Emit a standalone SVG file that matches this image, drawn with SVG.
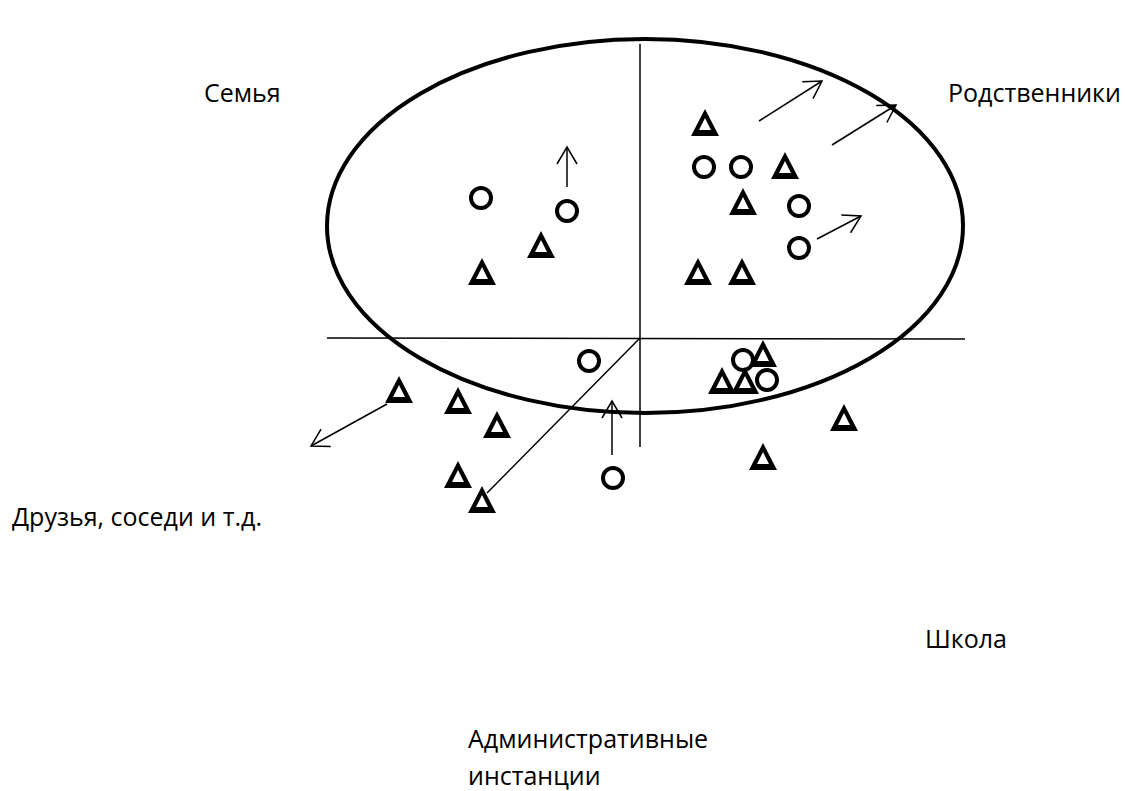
<svg xmlns="http://www.w3.org/2000/svg" xmlns:xlink="http://www.w3.org/1999/xlink" width="1125" height="791" viewBox="0 0 1125 791">
<style>
.lbl{font-family:"Open Sans","Noto Sans","Liberation Sans",sans-serif;font-size:25px;fill:#000}
.thin{stroke:#000;stroke-width:1.5;fill:none}
.arr{stroke:#000;stroke-width:1.5;fill:none;marker-end:url(#ah)}
.c{fill:none;stroke:#000;stroke-width:4}
</style>
<defs>
<marker id="ah" markerUnits="userSpaceOnUse" viewBox="-20 -12 22 24" refX="0" refY="0" markerWidth="22" markerHeight="24" orient="auto">
<path d="M-17,-10 L0,0 L-17,10" fill="none" stroke="#000" stroke-width="1.5"/>
</marker>
<path id="tri" d="M0,-27 L14,0 L-14,0 Z M0,-18 L-6,-6 L6,-6 Z" fill="#000" fill-rule="evenodd"/>
</defs>
<rect width="1125" height="791" fill="#fff"/>
<g id="field">
<ellipse cx="645" cy="226" rx="318" ry="187" fill="none" stroke="#000" stroke-width="4"/>
</g>
<g id="connectors">
<line class="thin" x1="640" y1="44" x2="640" y2="447"/>
<line class="thin" x1="327" y1="338" x2="965" y2="339"/>
<line class="thin" x1="640" y1="338" x2="487" y2="493"/>
<line class="arr" x1="567" y1="187" x2="567" y2="147"/>
<line class="arr" x1="759" y1="121" x2="822" y2="81"/>
<line class="arr" x1="832" y1="145" x2="896" y2="105"/>
<line class="arr" x1="817" y1="239" x2="861" y2="216"/>
<line class="arr" x1="387" y1="404" x2="311" y2="446"/>
<line class="arr" x1="612" y1="455" x2="612" y2="401"/>
</g>
<g id="family">
<circle class="c" cx="481" cy="198" r="10"/>
<circle class="c" cx="567" cy="211" r="10"/>
<use xlink:href="#tri" x="482" y="285"/>
<use xlink:href="#tri" x="541" y="258"/>
</g>
<g id="relatives">
<use xlink:href="#tri" x="705" y="136"/>
<circle class="c" cx="704" cy="167" r="10"/>
<circle class="c" cx="741" cy="167" r="10"/>
<use xlink:href="#tri" x="785" y="179"/>
<use xlink:href="#tri" x="743" y="215"/>
<circle class="c" cx="799" cy="206" r="10"/>
<circle class="c" cx="799" cy="248" r="10"/>
<use xlink:href="#tri" x="698" y="285"/>
<use xlink:href="#tri" x="742" y="285"/>
</g>
<g id="friends">
<use xlink:href="#tri" x="399" y="403"/>
<use xlink:href="#tri" x="458" y="414"/>
<use xlink:href="#tri" x="497" y="438"/>
<use xlink:href="#tri" x="458" y="488"/>
<use xlink:href="#tri" x="482" y="513"/>
</g>
<g id="admin">
<circle class="c" cx="589" cy="361" r="10"/>
<circle class="c" cx="613" cy="478" r="10"/>
</g>
<g id="school">
<circle class="c" cx="743" cy="360" r="10"/>
<use xlink:href="#tri" x="763" y="367"/>
<use xlink:href="#tri" x="722" y="394"/>
<use xlink:href="#tri" x="745" y="394"/>
<circle class="c" cx="767" cy="380" r="10"/>
<use xlink:href="#tri" x="844" y="431"/>
<use xlink:href="#tri" x="763" y="470"/>
</g>
<g id="labels">
<text class="lbl" x="204" y="102">Семья</text>
<text class="lbl" x="948" y="102">Родственники</text>
<text class="lbl" x="12" y="526">Друзья, соседи и т.д.</text>
<text class="lbl" x="925" y="648">Школа</text>
<text class="lbl" x="468" y="748">Административные</text>
<text class="lbl" x="468" y="785">инстанции</text>
</g>
</svg>
